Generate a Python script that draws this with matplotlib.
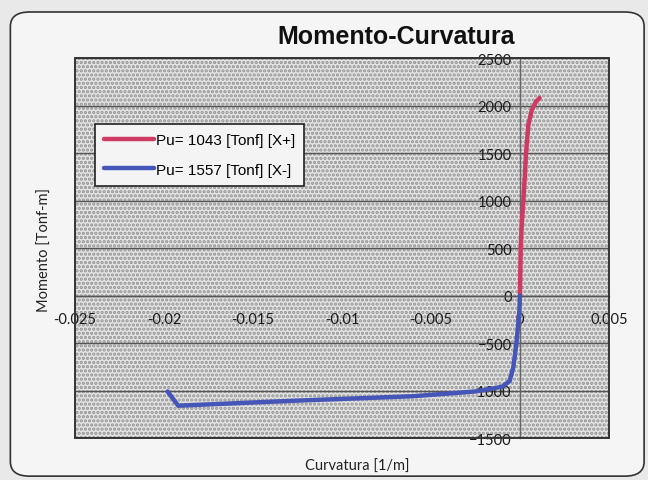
import matplotlib
matplotlib.use("Agg")
import matplotlib.pyplot as plt
from matplotlib.patches import Rectangle, FancyBboxPatch

# ── Data ──────────────────────────────────────────────────────────────────────
red_label = "Pu= 1043 [Tonf] [X+]"
red_x = [0, 0.00002, 0.00004, 0.0001, 0.00019, 0.00027, 0.00034, 0.00047, 0.00066, 0.0009, 0.0011]
red_y = [0, 250, 500, 750, 1000, 1250, 1500, 1800, 1950, 2040, 2080]

blue_label = "Pu= 1557 [Tonf] [X-]"
blue_x = [0, -0.00003, -0.0001, -0.0002, -0.00037, -0.00058, -0.001, -0.0025,
          -0.006, -0.013, -0.0192, -0.0198]
blue_y = [0, -150, -300, -500, -750, -900, -960, -1010, -1060, -1110, -1160, -1010]

x_ticks = [-0.025, -0.02, -0.015, -0.01, -0.005, 0, 0.005]
x_tick_labels = ["-0.025", "-0.02", "-0.015", "-0.01", "-0.005", "0", "0.005"]
y_ticks = [-1500, -1000, -500, 0, 500, 1000, 1500, 2000, 2500]

plt.rcParams["hatch.linewidth"] = 1.6

# ── Figure ────────────────────────────────────────────────────────────────────
fig = plt.figure(figsize=(6.48, 4.81), dpi=100, facecolor="#e9e9e9")
fig.patches.append(FancyBboxPatch((0.016, 0.008), 0.978, 0.965,
                                  boxstyle="round,pad=0,rounding_size=0.03",
                                  transform=fig.transFigure, facecolor="#f5f5f5",
                                  edgecolor="#333333", lw=1.2, zorder=-10))

ax = fig.add_axes([0.1157, 0.0873, 0.8241, 0.79])
ax.set_xlim(-0.025, 0.005)
ax.set_ylim(-1500, 2500)

# Excel-style stippled plot area
ax.patch.set_facecolor("#e4e4e4")
ax.add_patch(Rectangle((0, 0), 1, 1, transform=ax.transAxes, facecolor="none",
                       hatch="....", edgecolor="#929292", lw=0, zorder=0))
ax.add_patch(Rectangle((0, 0), 1, 1, transform=ax.transAxes, facecolor="none",
                       edgecolor="#333333", lw=1.4, zorder=5, clip_on=False))

for yv in y_ticks:
    ax.axhline(yv, color="#555555", lw=1.0, zorder=1)

ax.plot(red_x, red_y, color="#cf3a62", lw=3.2, label=red_label, zorder=3,
        solid_capstyle="round")
ax.plot(blue_x, blue_y, color="#4656b8", lw=3.2, label=blue_label, zorder=3,
        solid_capstyle="round")

# axes cross at the origin
for s in ["top", "right"]:
    ax.spines[s].set_visible(False)
ax.spines["left"].set_position(("data", 0))
ax.spines["bottom"].set_position(("data", 0))
ax.spines["left"].set_color("#666666")
ax.spines["bottom"].set_color("#555555")
ax.spines["left"].set_linewidth(1.0)
ax.spines["bottom"].set_linewidth(1.0)

ax.set_xticks(x_ticks)
ax.set_xticklabels(x_tick_labels)
ax.set_yticks(y_ticks)
ax.tick_params(axis="x", length=0, pad=12, labelsize=10.5)
ax.tick_params(axis="y", length=0, pad=6, labelsize=10.5)
for lbl in ax.get_xticklabels() + ax.get_yticklabels():
    lbl.set_family("Lato")
    lbl.set_color("#1a1a1a")

leg = ax.legend(loc="upper left", bbox_to_anchor=(0.037, 0.826), borderaxespad=0,
                fancybox=False, framealpha=1, facecolor="#f4f4f4", edgecolor="#222222",
                handlelength=3.3, handletextpad=0.1, labelspacing=1.0,
                borderpad=0.6, prop={"family": "Liberation Sans", "size": 11})
leg.get_frame().set_linewidth(1.2)
leg.set_zorder(6)

fig.text(0.611, 0.923, "Momento-Curvatura", ha="center", va="center",
         fontsize=18, fontweight="bold", family="Liberation Sans", color="#111111")
fig.text(0.069, 0.48, "Momento [Tonf-m]", ha="center", va="center", rotation=90,
         fontsize=10.5, family="Lato", color="#222222")
fig.text(0.552, 0.029, "Curvatura [1/m]", ha="center", va="center",
         fontsize=10.5, family="Lato", color="#222222")

plt.savefig("out.png", dpi=100, facecolor=fig.get_facecolor())
